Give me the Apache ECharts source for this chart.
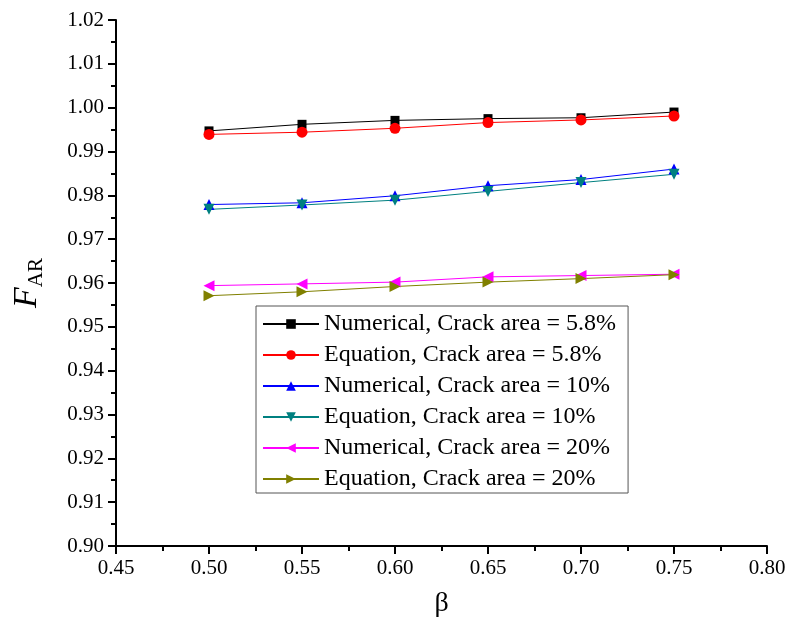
<!DOCTYPE html>
<html>
<head>
<meta charset="utf-8">
<script src="https://cdn.jsdelivr.net/npm/echarts@6/dist/echarts.min.js"></script>
<style>
  html, body { margin: 0; padding: 0; background: #fff; }
  #chart { width: 787px; height: 617px; }
</style>
</head>
<body>
<div id="chart"></div>
<script>
// β values along the x axis
const beta = [0.50, 0.55, 0.60, 0.65, 0.70, 0.75];

// F_AR for each crack area
const numerical58 = [0.9947, 0.9962, 0.9971, 0.9975, 0.9977, 0.9990];
const equation58  = [0.9939, 0.9944, 0.9953, 0.9966, 0.9972, 0.9981];
const numerical10 = [0.9779, 0.9783, 0.9799, 0.9822, 0.9836, 0.9860];
const equation10  = [0.9768, 0.9778, 0.9789, 0.9809, 0.9829, 0.9848];
const numerical20 = [0.9594, 0.9598, 0.9602, 0.9614, 0.9617, 0.9620];
const equation20  = [0.9571, 0.9580, 0.9592, 0.9602, 0.9610, 0.9619];

const seriesDefs = [
  { name: 'Numerical, Crack area = 5.8%', data: numerical58, color: '#000000', symbol: 'rect', size: 9, rotate: 0 },
  { name: 'Equation, Crack area = 5.8%', data: equation58, color: '#ff0000', symbol: 'circle', size: 11, rotate: 0 },
  { name: 'Numerical, Crack area = 10%', data: numerical10, color: '#0000ff', symbol: 'triangle', size: 11, rotate: 0 },
  { name: 'Equation, Crack area = 10%', data: equation10, color: '#008080', symbol: 'triangle', size: 11, rotate: 180 },
  { name: 'Numerical, Crack area = 20%', data: numerical20, color: '#ff00ff', symbol: 'triangle', size: 11, rotate: 90 },
  { name: 'Equation, Crack area = 20%', data: equation20, color: '#808000', symbol: 'triangle', size: 11, rotate: -90 }
];

const font = '"Liberation Serif", "Times New Roman", serif';

const chart = echarts.init(document.getElementById('chart'), null, { renderer: 'canvas' });

chart.setOption({
  animation: false,
  backgroundColor: '#ffffff',
  grid: { left: 116, right: 20, top: 20, bottom: 71, containLabel: false, outerBoundsMode: 'none' },
  xAxis: {
    type: 'value',
    min: 0.45,
    max: 0.80,
    interval: 0.05,
    name: 'β',
    nameLocation: 'middle',
    nameGap: 44,
    nameTextStyle: { fontFamily: font, fontSize: 28, color: '#000' },
    axisLine: { show: true, lineStyle: { color: '#000', width: 2 } },
    axisTick: { show: true, inside: false, length: 8, lineStyle: { color: '#000', width: 2 } },
    minorTick: { show: true, splitNumber: 2, length: 5, lineStyle: { color: '#000', width: 2 } },
    splitLine: { show: false },
    axisLabel: {
      fontFamily: font, fontSize: 21, color: '#000', margin: 12,
      formatter: v => v.toFixed(2)
    }
  },
  yAxis: {
    type: 'value',
    min: 0.90,
    max: 1.02,
    interval: 0.01,
    name: '{f|F}{s|AR}',
    nameLocation: 'middle',
    nameGap: 72,
    nameRotate: 90,
    nameTextStyle: {
      rich: {
        f: { fontFamily: font, fontSize: 34, fontStyle: 'italic', color: '#000', verticalAlign: 'bottom' },
        s: { fontFamily: font, fontSize: 21, color: '#000', verticalAlign: 'bottom', padding: [0, 0, -3, 0] }
      }
    },
    axisLine: { show: true, lineStyle: { color: '#000', width: 2 } },
    axisTick: { show: true, inside: false, length: 8, lineStyle: { color: '#000', width: 2 } },
    minorTick: { show: true, splitNumber: 2, length: 5, lineStyle: { color: '#000', width: 2 } },
    splitLine: { show: false },
    axisLabel: {
      fontFamily: font, fontSize: 21, color: '#000', margin: 12,
      formatter: v => v.toFixed(2)
    }
  },
  legend: {
    orient: 'vertical',
    left: 256,
    top: 306,
    padding: [6, 12, 2, 6],
    itemWidth: 56,
    itemHeight: 12,
    itemGap: 7,
    borderColor: '#555',
    borderWidth: 1,
    borderRadius: 0,
    backgroundColor: '#fff',
    textStyle: { fontFamily: font, fontSize: 24, lineHeight: 24, color: '#000' },
    data: seriesDefs.map(s => s.name)
  },
  series: seriesDefs.map(s => ({
    type: 'line',
    name: s.name,
    data: beta.map((b, i) => [b, s.data[i]]),
    symbol: s.symbol,
    symbolSize: s.size,
    symbolRotate: s.rotate,
    showSymbol: true,
    color: s.color,
    lineStyle: { color: s.color, width: 1 },
    itemStyle: { color: s.color },
    z: 3
  }))
});
</script>
</body>
</html>
